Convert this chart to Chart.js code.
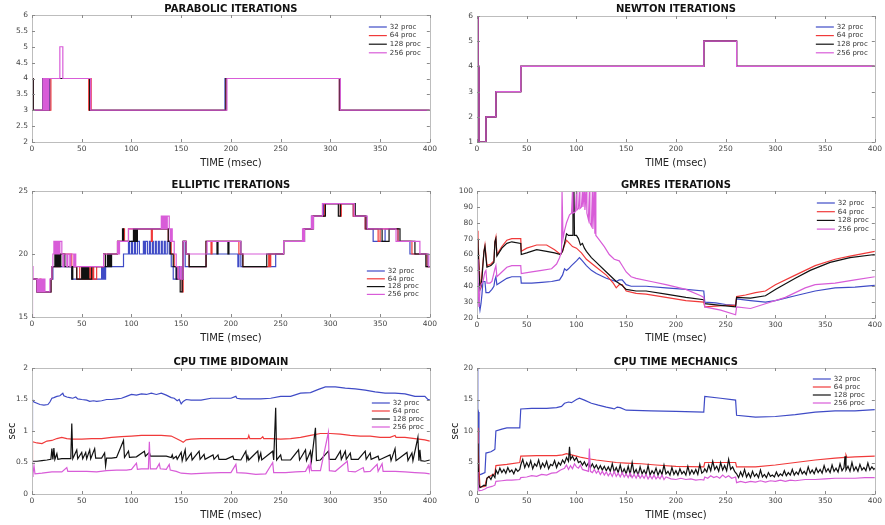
<!DOCTYPE html>
<html>
<head>
<meta charset="utf-8">
<script src="https://cdn.jsdelivr.net/npm/chart.js@4.4.1/dist/chart.umd.min.js"></script>
<style>
  html, body { margin: 0; padding: 0; background: #fff; width: 885px; height: 525px; overflow: hidden; }
  canvas { position: absolute; }
</style>
</head>
<body>
<canvas id="parabolic" width="440" height="172" style="left:0;top:0"></canvas>
<canvas id="newton" width="445" height="172" style="left:440px;top:0"></canvas>
<canvas id="elliptic" width="440" height="170" style="left:0;top:175px"></canvas>
<canvas id="gmres" width="445" height="170" style="left:440px;top:175px"></canvas>
<canvas id="bidomain" width="440" height="180" style="left:0;top:345px"></canvas>
<canvas id="mechanics" width="445" height="180" style="left:440px;top:345px"></canvas>
<script>
// ---- series labels and time axis ----
const procLabels = ['32 proc', '64 proc', '128 proc', '256 proc'];
const timeTicksStep = 50; // msec

// ---- PARABOLIC ITERATIONS (step data: [time, iterations]) ----
const par32  = [[0,4],[1,3],[11,4],[12,3],[13,4],[14,3],[16,4],[17,3],[18,4],[58,3],[194,4],[309,3],[400,3]];
const par64  = [[0,4],[1,3],[12,4],[13,3],[15,4],[16,3],[18,3],[19,4],[57,3],[58,4],[59.5,3],[195,4],[309,3],[400,3]];
const par128 = [[0,4],[1.2,3],[11,4],[12,3],[14,4],[15,3],[17,4],[58,3],[195,4],[309.5,3],[400,3]];
const par256 = [[0,3],[11,4],[12,3],[13,4],[14,3],[15,4],[16,3],[17,4],[28,5],[31,4],[59,3],[196,4],[310,3],[400,3]];

// ---- NEWTON ITERATIONS (identical for all runs) ----
const newton32  = [[0,6],[1,4],[2,1],[9,2],[19,3],[44,4],[228,5],[261,4],[400,4]];
const newton64  = [[0,6],[1,4],[2,1],[9,2],[19,3],[44,4],[228,5],[261,4],[400,4]];
const newton128 = [[0,6],[1,4],[2,1],[9,2],[19,3],[44,4],[228,5],[261,4],[400,4]];
const newton256 = [[0,6],[1,4],[2,1],[9,2],[19,3],[44,4],[228,5],[261,4],[400,4]];

// ---- ELLIPTIC ITERATIONS ----
const ell32 = [[0,18],[5,17],[19,18],[21,19],[40,18],[70,19],[71,18],[72,19],[73,18],[74,19],[92,20],[97,21],[98,20],[100,21],[101,20],[103,21],[104,20],[106,21],[108,20],[112,21],[113,20],[114,21],[116,20],[118,21],[119,20],[121,21],[122,20],[124,21],[125,20],[127,21],[128,20],[130,21],[131,20],[133,21],[134,20],[136,21],[138,20],[140,19],[142,18],[145,19],[146,18],[148,19],[150,18],[152,21],[154,19],[175,20],[207,19],[208,20],[210,19],[245,20],[253,21],[273,22],[281,23],[293,24],[323,23],[335,22],[343,21],[355,22],[368,21],[380,20],[398,19],[400,19]];
const ell64 = [[0,18],[5,17],[8,18],[9,17],[19,18],[20,19],[25,20],[26,19],[28,20],[40,19],[45,18],[48,19],[50,18],[52,19],[53,18],[55,19],[56,18],[58,19],[59,18],[61,19],[62,18],[65,19],[72,20],[86,21],[92,22],[93,21],[97,22],[120,21],[121,22],[137,21],[140,20],[143,19],[147,18],[151,17],[152,21],[155,20],[158,19],[175,21],[180,20],[181,21],[208,20],[212,19],[238,20],[239,19],[240,20],[253,21],[273,22],[282,23],[294,24],[310,23],[311,24],[323,23],[335,22],[348,21],[350,22],[368,21],[382,20],[397,19],[400,19]];
const ell128 = [[0,18],[5,17],[19,18],[20,19],[23,20],[24,19],[25,20],[26,19],[27,20],[28,19],[29,20],[33,19],[40,18],[41,19],[45,18],[50,19],[51,18],[52,19],[53,18],[54,19],[55,18],[56,19],[57,18],[60,19],[72,20],[74,19],[76,20],[77,19],[78,20],[79,19],[80,20],[86,21],[91,22],[92,21],[102,22],[103,21],[104,22],[105,21],[106,22],[137,21],[139,20],[142,19],[145,18],[149,17],[151,18],[152,21],[155,20],[158,19],[175,21],[186,20],[187,21],[197,20],[198,21],[210,20],[212,19],[236,20],[253,21],[274,22],[283,23],[295,24],[308,23],[310,24],[325,23],[336,22],[352,21],[359,22],[370,21],[385,20],[396,19],[400,19]];
const ell256 = [[0,15],[0.5,19],[1,18],[5,17],[6,18],[7,17],[8,18],[9,17],[10,18],[11,17],[12,18],[13,17],[18,18],[20,19],[21,20],[22,21],[23,20],[24,21],[25,20],[26,21],[27,20],[28,21],[30,20],[31,19],[32,20],[35,19],[36,20],[38,19],[39,20],[42,19],[43,20],[44,19],[72,20],[86,21],[87,20],[88,21],[97,22],[130,23],[131,22],[132,23],[133,22],[134,23],[135,22],[136,23],[138,22],[139,21],[140,22],[141,21],[143,20],[145,19],[147,18],[149,19],[150,18],[152,21],[155,20],[176,21],[210,20],[253,21],[272,22],[273,21],[274,22],[281,23],[282,22],[283,23],[292,24],[324,23],[337,22],[366,21],[390,20],[399,19],[400,19]];

// ---- GMRES ITERATIONS ----
const gm32 = [[0,42],[1,38],[2,30],[3,25],[4,29],[5,35],[6,43],[7,43],[8,43],[9,36],[12,36],[15,38],[17,40],[18,44],[19,46],[20,41],[25,43],[30,45],[35,46],[44,46],[44.5,42],[55,42],[65,42.5],[75,43],[83,44],[86,47],[88,51],[90,50],[92,51],[95,53],[100,56],[103,58],[106,56],[110,53],[115,50],[120,48],[130,45],[140,43],[143,44],[146,44],[150,41],[155,40],[170,40],[190,39],[210,38],[228,37],[229,30],[240,29.5],[250,28.5],[260,28],[261,32],[275,31],[290,30],[300,31],[320,34],[340,37],[360,39],[380,39.5],[400,40.5]];
const gm64 = [[0,75],[1,70],[2,55],[3,42],[4,40],[5,48],[7,62],[8,66],[9,60],[10,53],[14,54],[17,56],[18,68],[19,71],[20,60],[25,65],[30,69],[35,70],[44,70],[44.5,62],[50,64],[60,66],[70,66],[78,63],[84,60],[86,62],[88,66],[90,69],[93,67],[96,65],[100,64],[105,61],[110,57],[120,52],[130,47],[137,42],[140,39],[143,41],[146,41],[150,37],[160,35.5],[170,35],[190,33],[210,31],[228,30],[229,27],[240,27.5],[250,28],[260,28],[261,33.5],[270,34.5],[280,36],[290,37],[300,41],[320,47],[340,53],[360,57],[375,59],[400,62]];
const gm128 = [[0,70],[1,65],[2,50],[3,38],[4,40],[5,45],[7,62],[8,65],[9,58],[10,52],[14,53],[17,55],[18,68],[19,70],[20,59],[25,64],[30,67],[35,68],[44,67],[44.5,60],[50,61],[60,63],[70,62],[78,61],[84,60],[86,62],[88,67],[90,73],[92,72],[96,72],[96.5,100],[97.5,100],[98,72],[100,72],[102,70],[104,66],[106,67],[108,64],[110,62],[115,58],[120,55],[130,49],[140,43],[145,41],[150,38],[160,37],[170,37],[190,35],[210,33],[228,31.5],[229,29],[245,28],[260,27],[261,33],[275,32.5],[290,34],[300,38],[320,45],[335,50],[355,55],[375,58],[400,60]];
const gm256 = [[0,57],[1,45],[2,27],[3,38],[4,41],[6,43],[8,49],[9,50],[10,42],[13,42],[15,43],[18,51],[19,53],[20,46],[25,49],[30,52],[35,53],[44,53],[44.5,48],[55,49],[65,50],[75,51],[80,54],[83,58],[85,62],[85.5,100],[86,100],[86.5,70],[88,75],[90,80],[93,85],[95,86],[96,100],[96.5,86],[99,87],[100,100],[100.5,88],[102,89],[103,100],[103.5,89],[105,90],[106,100],[106.5,90],[108,100],[108.5,88],[110,100],[110.5,86],[112,82],[113,100],[113.5,80],[115,78],[116,100],[116.5,76],[118,100],[118.5,73],[119,100],[119.5,72],[122,70],[128,65],[133,60],[138,57],[143,56],[145,54],[150,49],[155,46],[160,45],[175,43],[190,41],[210,38],[225,34],[228,33],[229,27],[245,25],[260,22],[261,27],[275,26],[290,29],[310,33],[330,39],[340,41],[360,42],[380,44],[400,46]];

// ---- CPU TIME BIDOMAIN (sec) ----
const bd32 = [[0,1.0],[0.5,1.5],[2,1.46],[5,1.44],[8,1.42],[12,1.41],[16,1.42],[18,1.46],[20,1.52],[22,1.53],[25,1.55],[28,1.56],[31,1.6],[32,1.56],[35,1.54],[38,1.53],[41,1.52],[44,1.54],[46,1.51],[50,1.5],[55,1.49],[58,1.47],[62,1.48],[65,1.47],[70,1.48],[75,1.5],[80,1.5],[85,1.51],[90,1.52],[95,1.55],[100,1.58],[105,1.57],[110,1.59],[115,1.58],[120,1.6],[125,1.58],[130,1.6],[135,1.57],[140,1.53],[143,1.52],[146,1.48],[148,1.5],[150,1.43],[152,1.47],[155,1.5],[160,1.49],[170,1.49],[180,1.52],[190,1.52],[200,1.52],[205,1.55],[206,1.52],[210,1.51],[220,1.51],[230,1.51],[240,1.52],[250,1.55],[260,1.55],[270,1.6],[280,1.61],[288,1.66],[295,1.7],[305,1.7],[315,1.68],[325,1.67],[335,1.65],[345,1.62],[355,1.6],[365,1.6],[375,1.59],[385,1.55],[395,1.55],[398,1.5],[400,1.5]];
const bd64 = [[0,0.52],[0.5,0.83],[5,0.81],[10,0.8],[15,0.84],[20,0.85],[25,0.88],[30,0.9],[35,0.88],[40,0.87],[50,0.87],[60,0.88],[70,0.88],[80,0.9],[90,0.91],[100,0.92],[110,0.93],[120,0.93],[130,0.93],[140,0.92],[145,0.88],[150,0.84],[152,0.82],[155,0.86],[160,0.87],[170,0.88],[180,0.88],[190,0.88],[200,0.88],[210,0.88],[217,0.88],[218,0.93],[219,0.88],[230,0.88],[232,0.91],[233,0.88],[240,0.88],[250,0.87],[260,0.88],[270,0.9],[280,0.93],[290,0.96],[300,0.96],[310,0.95],[320,0.93],[330,0.92],[340,0.92],[350,0.9],[360,0.9],[365,0.93],[366,0.9],[375,0.9],[385,0.88],[395,0.86],[400,0.84]];
const bd128 = [[0,0.52],[5,0.52],[10,0.53],[15,0.54],[19,0.55],[20,0.72],[21,0.55],[22,0.73],[23,0.55],[25,0.64],[26,0.55],[30,0.56],[35,0.56],[39,0.56],[40,1.12],[41,0.56],[45,0.7],[46,0.56],[50,0.66],[51,0.56],[54,0.66],[55,0.56],[58,0.7],[59,0.56],[63,0.72],[64,0.57],[70,0.57],[73,0.65],[74,0.45],[75,0.57],[80,0.57],[85,0.58],[92,0.85],[93,0.58],[97,0.68],[98,0.58],[105,0.59],[113,0.68],[114,0.6],[118,0.66],[119,0.6],[125,0.6],[130,0.6],[135,0.6],[140,0.58],[141,0.62],[142,0.56],[145,0.6],[146,0.55],[150,0.66],[151,0.53],[154,0.7],[155,0.53],[160,0.65],[161,0.54],[168,0.68],[169,0.55],[173,0.63],[174,0.55],[182,0.62],[183,0.55],[187,0.62],[188,0.55],[195,0.55],[202,0.6],[203,0.55],[210,0.54],[215,0.68],[216,0.54],[217,0.6],[218,0.54],[227,0.68],[228,0.54],[230,0.65],[231,0.54],[242,0.68],[243,0.54],[245,1.37],[246,0.54],[250,0.62],[251,0.54],[260,0.54],[268,0.7],[269,0.54],[275,0.7],[276,0.53],[280,0.68],[281,0.53],[285,1.05],[286,0.53],[290,0.54],[298,0.68],[299,0.55],[305,0.55],[310,0.68],[311,0.55],[315,0.68],[316,0.55],[320,0.65],[321,0.55],[328,0.55],[335,0.68],[336,0.55],[340,0.65],[341,0.55],[348,0.6],[349,0.54],[360,0.62],[361,0.53],[365,0.72],[366,0.53],[377,0.66],[378,0.53],[382,0.65],[383,0.53],[388,0.9],[389,0.53],[390,0.7],[391,0.53],[395,0.52],[400,0.54]];
const bd256 = [[0,0.28],[1,0.32],[2,0.45],[3,0.32],[10,0.33],[20,0.35],[30,0.35],[35,0.42],[36,0.36],[45,0.36],[55,0.36],[65,0.35],[75,0.37],[85,0.38],[95,0.38],[100,0.39],[105,0.49],[106,0.39],[110,0.4],[117,0.4],[118,0.83],[119,0.4],[125,0.4],[128,0.48],[129,0.4],[135,0.39],[138,0.47],[139,0.38],[145,0.36],[150,0.33],[160,0.32],[175,0.33],[190,0.34],[200,0.34],[205,0.47],[206,0.34],[215,0.33],[225,0.31],[235,0.32],[242,0.5],[243,0.34],[255,0.34],[265,0.35],[275,0.36],[278,0.45],[279,0.37],[280,0.5],[281,0.37],[290,0.37],[298,0.98],[299,0.37],[305,0.36],[317,0.52],[318,0.36],[325,0.35],[333,0.42],[334,0.35],[340,0.36],[347,0.47],[348,0.36],[352,0.48],[353,0.36],[365,0.36],[375,0.35],[385,0.34],[395,0.33],[400,0.32]];

// ---- CPU TIME MECHANICS (sec) ----
const mc32 = [[0,20],[0.5,16],[1,13.5],[1.5,13],[2,3],[5,3.2],[8,3.4],[9,6.5],[14,6.7],[17,7],[18,7.1],[19,10],[25,10.3],[30,10.5],[43,10.5],[44,13.5],[55,13.6],[70,13.6],[80,13.7],[85,13.9],[88,14.4],[92,14.6],[95,14.5],[100,15],[103,15.2],[108,14.9],[115,14.4],[122,14.1],[130,13.8],[136,13.6],[138,13.5],[141,13.8],[144,13.7],[150,13.3],[175,13.2],[200,13.1],[228,13],[229,15.5],[245,15.2],[260,14.9],[261,12.5],[280,12.2],[300,12.3],[320,12.6],[340,13],[360,13.2],[380,13.2],[400,13.4]];
const mc64 = [[0,10.5],[1,8],[2,4],[3,1.1],[8,1.2],[9,2],[10,2.5],[15,3],[18,3.2],[19,4.5],[30,4.7],[43,5],[44,6],[60,6.1],[80,6.1],[86,6.2],[90,6.4],[95,6.2],[100,6],[105,5.8],[112,5.6],[120,5.4],[130,5.2],[140,5],[150,4.9],[165,4.8],[180,4.6],[200,4.4],[228,4.3],[229,5],[245,5],[260,5],[261,4.3],[280,4.3],[300,4.6],[320,5],[340,5.4],[360,5.7],[370,5.8],[371,6.2],[372,5.8],[380,5.9],[400,6]];
const mc128 = [[0,8],[1,5],[2,1.5],[3,1],[5,1.2],[7,1.4],[9,1.3],[10,2.5],[12,2.8],[14,2.3],[16,3.1],[18,2.6],[19,3.8],[21,3.2],[23,4.1],[25,3.4],[27,3.9],[29,3.3],[31,4.2],[33,3.5],[35,3.8],[37,3.2],[39,4.0],[41,3.6],[43,3.9],[44,4.6],[46,5.5],[48,4.2],[50,5.0],[52,4.3],[54,5.3],[56,4.0],[58,4.8],[60,4.4],[62,5.4],[64,4.1],[66,4.9],[68,4.3],[70,5.2],[72,4.0],[74,4.7],[76,4.5],[78,5.3],[80,4.2],[82,5.0],[84,4.6],[86,5.4],[88,4.9],[90,5.8],[92,5.2],[93,7.5],[94,5.5],[96,6.0],[98,5.3],[100,5.8],[102,5.0],[104,5.2],[106,4.6],[108,5.1],[110,4.4],[112,4.9],[114,4.2],[116,4.8],[118,4.1],[120,4.6],[122,3.9],[124,4.5],[126,3.8],[128,4.4],[130,3.7],[132,4.3],[134,3.6],[136,4.8],[138,3.5],[140,4.2],[142,3.4],[144,4.6],[146,3.3],[148,4.0],[150,3.2],[152,4.4],[154,3.1],[156,5.0],[158,3.3],[160,3.9],[162,3.0],[164,4.3],[166,3.2],[168,3.8],[170,3.1],[172,4.5],[174,3.0],[176,3.7],[178,3.2],[180,4.1],[182,3.0],[184,3.8],[186,3.1],[188,4.6],[190,3.2],[192,3.6],[194,3.0],[196,4.2],[198,3.1],[200,3.7],[202,3.0],[204,4.0],[206,3.2],[208,3.6],[210,3.0],[212,4.4],[214,3.1],[216,3.8],[218,3.2],[220,3.9],[222,3.1],[224,4.7],[226,3.3],[228,3.6],[229,4.0],[231,3.5],[233,4.6],[235,3.7],[237,5.2],[239,3.9],[241,4.4],[243,3.6],[245,5.0],[247,3.8],[249,4.5],[251,3.7],[253,5.5],[255,3.9],[257,4.3],[259,3.6],[261,3.2],[263,2.6],[265,3.5],[267,2.8],[269,3.9],[271,2.7],[273,3.3],[275,2.6],[277,3.6],[279,2.8],[281,3.2],[283,2.6],[285,3.8],[287,2.7],[289,3.1],[291,2.6],[293,3.4],[295,2.8],[297,3.0],[299,2.7],[301,3.5],[303,2.8],[305,3.2],[307,2.9],[309,3.7],[311,2.9],[313,3.4],[315,3.0],[317,3.9],[319,3.0],[321,3.5],[323,3.1],[325,4.0],[327,3.2],[329,3.6],[331,3.1],[333,4.3],[335,3.3],[337,3.8],[339,3.2],[341,4.1],[343,3.4],[345,3.9],[347,3.3],[349,4.5],[351,3.5],[353,4.0],[355,3.4],[357,4.6],[359,3.6],[361,4.1],[363,3.5],[365,4.8],[367,3.7],[369,4.2],[370,6.0],[371,3.8],[373,4.4],[375,3.6],[377,5.0],[379,3.7],[381,4.3],[383,3.6],[385,4.7],[387,3.8],[389,4.2],[391,3.7],[393,4.9],[395,3.8],[397,4.3],[399,3.9],[400,4.1]];
const mc256 = [[0,3.5],[1,1.5],[2,0.5],[5,0.6],[8,0.8],[10,1.0],[15,1.2],[18,1.4],[19,2.0],[25,2.1],[30,2.2],[35,2.2],[43,2.3],[44,2.6],[50,2.7],[55,2.9],[60,2.8],[65,3.1],[70,3.0],[75,3.3],[80,3.4],[84,3.8],[88,4.1],[90,4.6],[92,3.9],[94,4.5],[96,4.0],[98,4.8],[100,4.3],[102,4.1],[104,4.6],[106,3.9],[108,3.8],[110,3.7],[112,3.6],[113,7.2],[114,3.6],[116,3.4],[118,3.9],[120,3.3],[122,3.7],[124,3.1],[126,3.6],[128,3.0],[130,3.5],[132,2.9],[134,3.4],[136,2.8],[138,3.6],[140,2.8],[142,3.3],[144,2.7],[146,3.4],[148,2.7],[150,3.2],[152,2.6],[154,3.3],[156,2.6],[158,3.1],[160,2.5],[162,3.2],[164,2.5],[166,3.0],[168,2.5],[170,3.1],[172,2.4],[174,2.9],[176,2.4],[178,3.0],[180,2.4],[182,2.8],[184,2.4],[186,3.0],[188,2.3],[190,2.7],[195,2.4],[200,2.3],[205,2.5],[210,2.3],[215,2.4],[220,2.2],[225,2.3],[228,2.2],[229,2.7],[232,2.5],[235,2.9],[238,2.6],[241,2.8],[244,2.5],[247,3.0],[250,2.6],[253,2.9],[256,2.5],[260,2.7],[261,1.8],[265,2.0],[270,1.8],[275,2.0],[280,1.9],[285,2.1],[290,1.9],[295,2.1],[300,2.0],[305,2.2],[310,2.0],[315,2.2],[320,2.1],[330,2.3],[340,2.3],[350,2.4],[360,2.5],[370,2.5],[380,2.5],[390,2.6],[400,2.6]];

// ---- drawing ----
const FONT = "'DejaVu Sans', Arial, sans-serif";
const lineColors = ['#3f4bc6', '#f03a3a', '#111111', '#d85cd8'];
const toPoints = arr => arr.map(([x, y]) => ({ x, y }));
const plainNumber = v => String(Math.round(v * 1000) / 1000);

// light axis box with inward tick marks on all four sides
const boxPlugin = {
  id: 'axisBox',
  afterDatasetsDraw(chart) {
    const { ctx, chartArea: a, scales: { x, y } } = chart;
    ctx.save();
    ctx.strokeStyle = '#bdbdbd';
    ctx.lineWidth = 1;
    ctx.strokeRect(Math.round(a.left) + 0.5, Math.round(a.top) + 0.5,
                   Math.round(a.right - a.left), Math.round(a.bottom - a.top));
    ctx.strokeStyle = '#8a8a8a';
    ctx.beginPath();
    const t = 3;
    x.ticks.forEach(tk => {
      const px = Math.round(x.getPixelForValue(tk.value)) + 0.5;
      ctx.moveTo(px, a.bottom); ctx.lineTo(px, a.bottom - t);
      ctx.moveTo(px, a.top); ctx.lineTo(px, a.top + t);
    });
    y.ticks.forEach(tk => {
      const py = Math.round(y.getPixelForValue(tk.value)) + 0.5;
      ctx.moveTo(a.left, py); ctx.lineTo(a.left + t, py);
      ctx.moveTo(a.right, py); ctx.lineTo(a.right - t, py);
    });
    ctx.stroke();
    ctx.restore();
  }
};

// bold panel title, centred over the plot area
const titlePlugin = {
  id: 'panelTitle',
  afterDraw(chart, args, opts) {
    const { ctx, chartArea: a } = chart;
    ctx.save();
    ctx.font = 'bold 10px ' + FONT;
    ctx.fillStyle = '#111';
    ctx.textAlign = 'center';
    ctx.textBaseline = 'middle';
    ctx.fillText(opts.text, (a.left + a.right) / 2, opts.y);
    ctx.restore();
  }
};

// small legend inside the plot area
const legendPlugin = {
  id: 'procLegend',
  afterDraw(chart, args, opts) {
    const { ctx, chartArea: a } = chart;
    ctx.save();
    ctx.font = '7px ' + FONT;
    ctx.textBaseline = 'middle';
    ctx.textAlign = 'left';
    chart.data.datasets.forEach((ds, i) => {
      const y = a.top + opts.top + i * opts.step;
      const x0 = a.right - opts.right;
      ctx.strokeStyle = ds.borderColor;
      ctx.lineWidth = 1.2;
      ctx.beginPath();
      ctx.moveTo(x0, y); ctx.lineTo(x0 + 18, y);
      ctx.stroke();
      ctx.fillStyle = '#333';
      ctx.fillText(ds.label, x0 + 21, y);
    });
    ctx.restore();
  }
};

function panel(id, o) {
  return new Chart(document.getElementById(id), {
    type: 'line',
    data: {
      datasets: o.series.map((s, i) => ({
        label: procLabels[i],
        data: toPoints(s),
        borderColor: lineColors[i],
        backgroundColor: lineColors[i],
        borderWidth: 1.2,
        pointRadius: 0,
        tension: 0,
        stepped: o.stepped ? 'before' : false,
        order: 4 - i
      }))
    },
    options: {
      responsive: false,
      animation: false,
      events: [],
      layout: { padding: { left: 0, top: o.top, right: o.padRight, bottom: 0 } },
      plugins: {
        legend: { display: false },
        tooltip: { enabled: false },
        title: { display: false },
        panelTitle: { text: o.title, y: o.titleY },
        procLegend: o.legend
      },
      scales: {
        x: {
          type: 'linear', min: 0, max: 400,
          ticks: { stepSize: timeTicksStep, color: '#444', font: { family: FONT, size: 7.5 }, padding: 3, maxRotation: 0, autoSkip: false, callback: plainNumber },
          grid: { display: false, drawTicks: false },
          border: { display: false },
          title: { display: true, text: 'TIME (msec)', color: '#222', font: { family: FONT, size: 10, lineHeight: 1.2 }, padding: { top: 0, bottom: o.xTitlePad } },
          afterFit: s => { s.height = o.xH; }
        },
        y: {
          type: 'linear', min: o.ymin, max: o.ymax,
          ticks: { stepSize: o.ystep, color: '#444', font: { family: FONT, size: 7.5 }, padding: 4, autoSkip: false, callback: plainNumber },
          grid: { display: false, drawTicks: false },
          border: { display: false },
          title: o.yTitle ? { display: true, text: o.yTitle, color: '#222', font: { family: FONT, size: 10, lineHeight: 1.2 }, padding: { top: o.yTitlePad, bottom: 0 } } : { display: false },
          afterFit: s => { s.width = o.yW; }
        }
      }
    },
    plugins: [boxPlugin, legendPlugin, titlePlugin]
  });
}

panel('parabolic', {
  title: 'PARABOLIC ITERATIONS', series: [par32, par64, par128, par256], stepped: true,
  ymin: 2, ymax: 6, ystep: 0.5, yW: 32, padRight: 9, top: 15, titleY: 9, xH: 30, xTitlePad: 3,
  legend: { top: 12, step: 8.6, right: 61 }
});
panel('newton', {
  title: 'NEWTON ITERATIONS', series: [newton32, newton64, newton128, newton256], stepped: true,
  ymin: 1, ymax: 6, ystep: 1, yW: 37, padRight: 10, top: 16, titleY: 9, xH: 30, xTitlePad: 3,
  legend: { top: 11, step: 8.6, right: 59 }
});
panel('elliptic', {
  title: 'ELLIPTIC ITERATIONS', series: [ell32, ell64, ell128, ell256], stepped: true,
  ymin: 15, ymax: 25, ystep: 5, yW: 32, padRight: 9, top: 16, titleY: 10, xH: 28, xTitlePad: 1,
  legend: { top: 80, step: 7.8, right: 63 }
});
panel('gmres', {
  title: 'GMRES ITERATIONS', series: [gm32, gm64, gm128, gm256], stepped: false,
  ymin: 20, ymax: 100, ystep: 10, yW: 37, padRight: 10, top: 16, titleY: 10, xH: 27, xTitlePad: 1,
  legend: { top: 12, step: 8.7, right: 58 }
});
panel('bidomain', {
  title: 'CPU TIME BIDOMAIN', series: [bd32, bd64, bd128, bd256], stepped: false,
  ymin: 0, ymax: 2, ystep: 0.5, yW: 32, padRight: 9, top: 23, titleY: 17, xH: 31, xTitlePad: 4,
  yTitle: 'sec', yTitlePad: 6, legend: { top: 35, step: 8, right: 58 }
});
panel('mechanics', {
  title: 'CPU TIME MECHANICS', series: [mc32, mc64, mc128, mc256], stepped: false,
  ymin: 0, ymax: 20, ystep: 5, yW: 37, padRight: 10, top: 23, titleY: 17, xH: 31, xTitlePad: 4,
  yTitle: 'sec', yTitlePad: 9, legend: { top: 11, step: 8, right: 62 }
});
</script>
</body>
</html>
